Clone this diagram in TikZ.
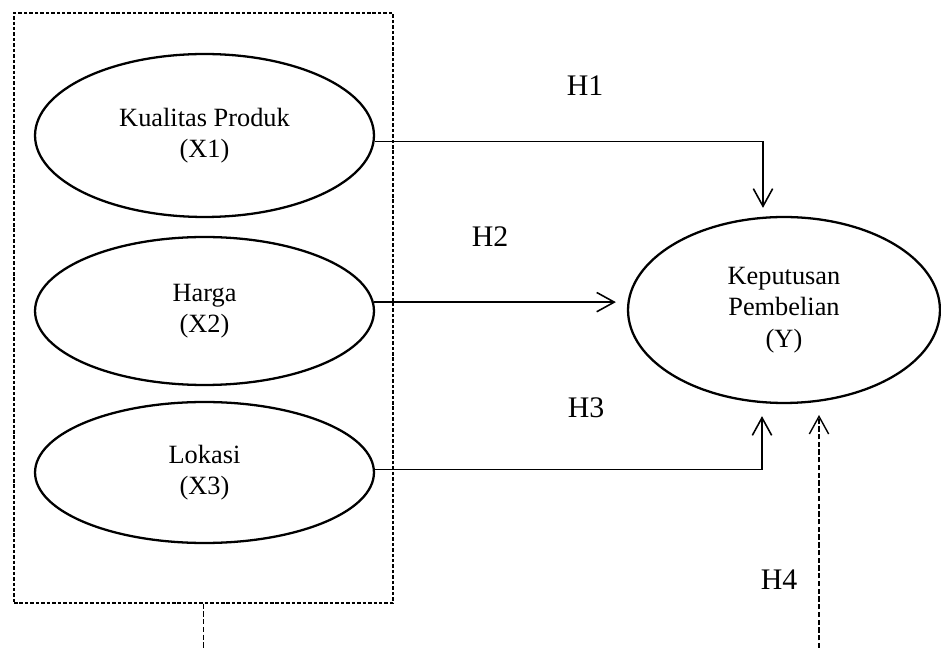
\documentclass[tikz,border=0pt]{standalone}
\usepackage{fontspec}
\setmainfont{Liberation Serif}
\usepackage{tikz}
\usetikzlibrary{arrows.meta,shapes.geometric,calc}

\begin{document}
\begin{tikzpicture}[
    x=0.02cm, y=-0.02cm,
    var/.style={draw, ellipse, line width=1.3pt, inner sep=0pt, align=center, font=\fontsize{15}{17.8}\selectfont},
    hyp/.style={inner sep=0pt, font=\fontsize{17}{20}\selectfont},
    grpbox/.style={draw, dash pattern=on 2pt off 1.1pt, line width=0.8pt, inner sep=0pt},
    arr/.style={-{Straight Barb[length=10pt,width=11pt]}, line width=0.9pt},
    dline/.style={dash pattern=on 3pt off 1.4pt, line width=0.8pt}
]
\useasboundingbox (0,0) rectangle (941,648);

\node[grpbox, minimum width=7.58cm, minimum height=11.8cm] (grp) at (203.5,308) {};
\node[var, minimum width=6.78cm, minimum height=3.26cm] (X1) at (204.5,135.5) {Kualitas Produk\\(X1)};
\node[var, minimum width=6.78cm, minimum height=2.96cm] (X2) at (204.5,311) {Harga\\(X2)};
\node[var, minimum width=6.78cm, minimum height=2.82cm] (X3) at (204.5,472.5) {Lokasi\\(X3)};
\node[var, minimum width=6.24cm, minimum height=3.72cm] (Y) at (784,310) {Keputusan\\Pembelian\\(Y)};

\node[hyp] (h1) at (585,85.5) {H1};
\node[hyp] (h2) at (490,237) {H2};
\node[hyp] (h3) at (586,408) {H3};
\node[hyp] (h4) at (779,580) {H4};

\coordinate (h4foot) at (819,648);
\coordinate (h4tip) at (819,415);
\coordinate (stemfoot) at (grp.south |- h4foot);

\draw[arr] (X1.-2) -| ($(Y.north)+(-21,-8)$);
\draw[arr] (X2.3) -- ($(X2.3 -| Y.west)+(-11,0)$);
\draw[arr] (X3.1.5) -| ($(Y.south)+(-22,12)$);
\draw[arr, dline] (h4foot) -- (h4tip);
\draw[dline] (grp.south) -- (stemfoot);
\end{tikzpicture}
\end{document}
